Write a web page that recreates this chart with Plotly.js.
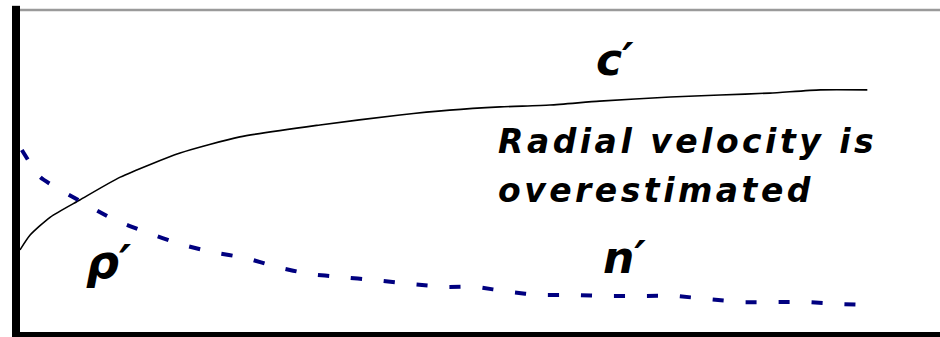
<!DOCTYPE html>
<html>
<head>
<meta charset="utf-8">
<script src="https://cdn.plot.ly/plotly-3.0.1.min.js"></script>
<style>
  html, body { margin: 0; padding: 0; background: #fff; }
  #chart { width: 940px; height: 337px; }
</style>
</head>
<body>
<div id="chart"></div>
<script>
// Distance along the profile (arbitrary units)
const cDist = [0, 1.1, 3.3, 6.5, 10.9, 17.4, 23.9, 32.6, 41.3, 46.7, 52.2, 57.6, 63.0, 70.7, 76.1, 81.5, 87.0, 92.1];
// c' : rising curve
const cVals = [25.5, 30.1, 35.7, 41.0, 48.1, 55.6, 60.6, 64.3, 67.4, 68.9, 69.9, 70.5, 71.7, 73.0, 73.6, 74.2, 75.2, 75.2];

const nDist = [0.2, 2.2, 6.5, 10.3, 13.6, 17.4, 20.9, 24.5, 27.9, 31.5, 34.8, 38.6, 42.4, 46.2, 49.5, 53.3, 56.5, 60.3, 63.8, 67.4, 71.2, 74.8, 78.5, 82.1, 85.5, 89.1, 92.1];
// n' : falling curve
const nVals = [56.5, 48.1, 40.7, 34.8, 31.1, 27.3, 24.8, 23.0, 20.2, 18.0, 17.1, 16.1, 14.9, 14.0, 14.0, 12.4, 11.5, 11.5, 11.2, 11.2, 11.2, 10.2, 9.3, 9.3, 9.3, 8.7, 8.4];

const labelC = "c\u2032";
const labelRho = "\u03C1\u2032";
const labelN = "n\u2032";
const noteLine1 = "Radial velocity is";
const noteLine2 = "overestimated";

const traces = [
  {
    x: cDist, y: cVals, type: 'scatter', mode: 'lines',
    line: { color: '#000000', width: 1.6, shape: 'spline', smoothing: 0.6 },
    hoverinfo: 'skip'
  },
  {
    x: nDist, y: nVals, type: 'scatter', mode: 'lines',
    line: { color: '#000080', width: 4, dash: '11px,22px', shape: 'spline', smoothing: 0.5 },
    hoverinfo: 'skip'
  }
];

const boldItalic = { family: 'DejaVu Sans', color: '#000', weight: 'bold', style: 'italic' };

function ann(text, x, y, size, weight, spacing) {
  const t = spacing ? '<span style="letter-spacing:' + spacing + 'px">' + text + '</span>' : text;
  return {
    text: t, x: x, y: y, xref: 'x', yref: 'y',
    xanchor: 'left', yanchor: 'middle', showarrow: false, align: 'left',
    font: Object.assign({}, boldItalic, { size: size, weight: weight })
  };
}

const layout = {
  width: 940, height: 337,
  margin: { l: 20, r: 0, t: 10, b: 5, pad: 0 },
  paper_bgcolor: '#fff', plot_bgcolor: '#fff',
  showlegend: false,
  xaxis: {
    range: [0, 100], showgrid: false, zeroline: false, showticklabels: false, ticks: '',
    showline: true, linecolor: '#000', linewidth: 6, fixedrange: true
  },
  yaxis: {
    range: [0, 100], showgrid: false, zeroline: false, showticklabels: false, ticks: '',
    showline: true, linecolor: '#000', linewidth: 8, fixedrange: true
  },
  shapes: [
    // thin frame line along the top
    { type: 'line', xref: 'paper', yref: 'paper', x0: 0, x1: 1, y0: 1, y1: 1,
      line: { color: '#9a9a9a', width: 2.5 } },
    // left axis overshoots the top frame slightly
    { type: 'line', xref: 'paper', yref: 'paper', x0: -0.00435, x1: -0.00435, y0: 0.99, y1: 1.013,
      line: { color: '#000', width: 8 } }
  ],
  annotations: [
    ann(noteLine1, 51.7, 59.1, 33, 'bold', 3.5),
    ann(noteLine2, 51.7, 43.9, 33, 'bold', 3.5),
    ann(labelC, 62.4, 84.5, 44, 'bold'),
    ann(labelRho, 7.0, 21.7, 46, 'bold'),
    ann(labelN, 63.2, 23.0, 44, 'bold')
  ]
};

Plotly.newPlot('chart', traces, layout, { staticPlot: true, displayModeBar: false });
</script>
</body>
</html>
